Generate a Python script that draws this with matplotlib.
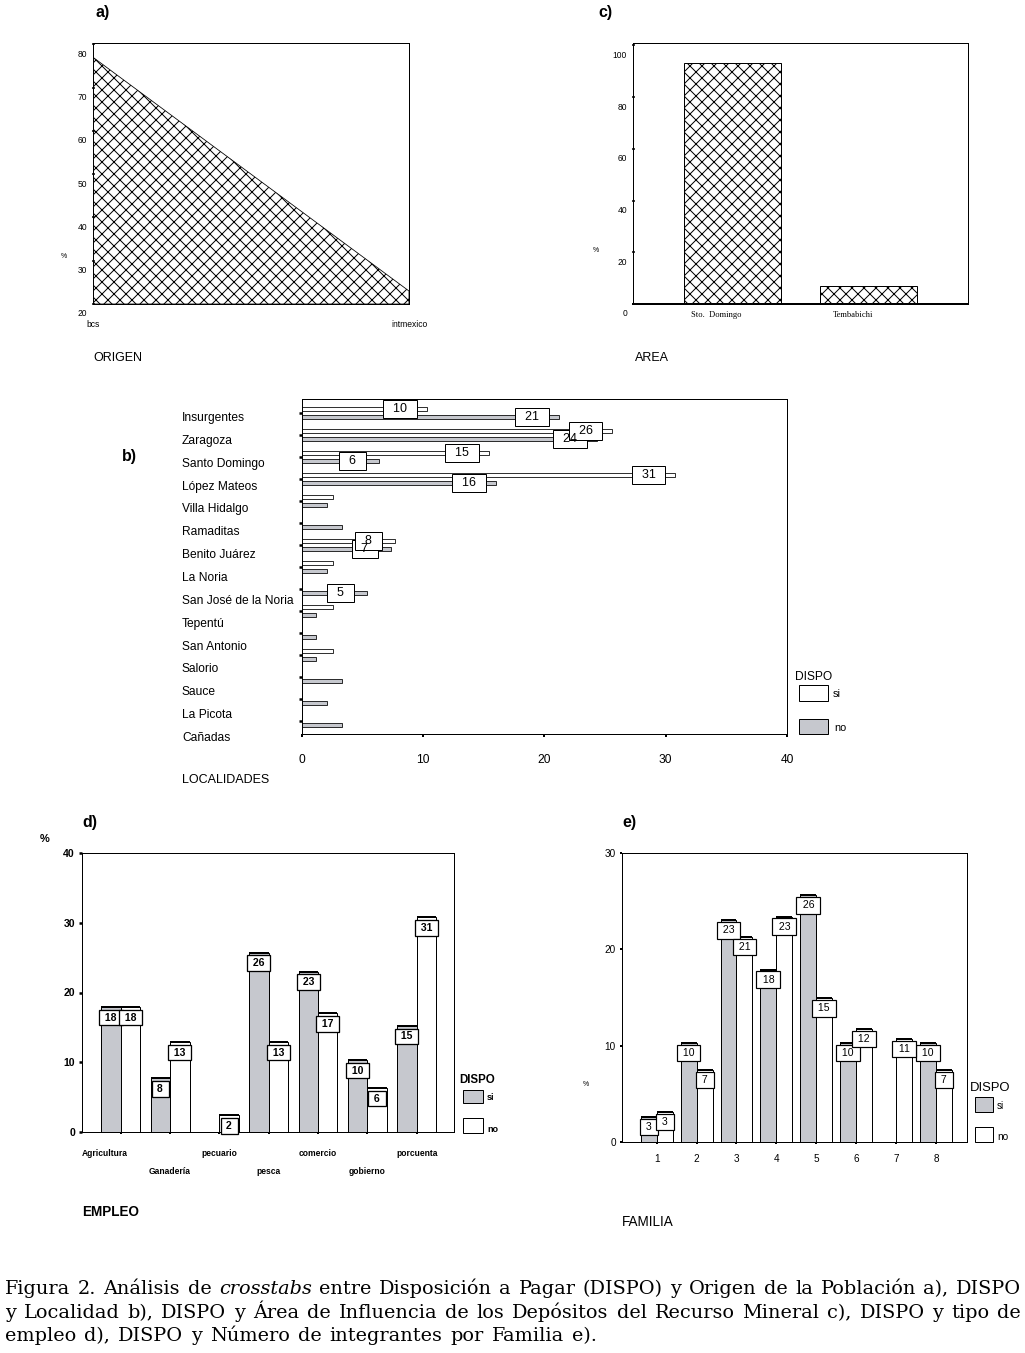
import matplotlib
matplotlib.use('Agg')
import matplotlib.pyplot as plt
import numpy as np
from matplotlib.patches import Rectangle

plt.rcParams['font.family'] = ['Liberation Sans', 'DejaVu Sans']
plt.rcParams['hatch.linewidth'] = 1.0
plt.rcParams['axes.linewidth'] = 1.0

# ---- data ----
origen = ['bcs', 'intmexico']
origen_pct = [77, 23]

area = ['Sto.  Domingo', 'Tembabichi']
area_pct = [93, 7]

localidades = ['Insurgentes', 'Zaragoza', 'Santo Domingo', 'López Mateos', 'Villa Hidalgo',
               'Ramaditas', 'Benito Juárez', 'La Noria', 'San José de la Noria', 'Tepentú',
               'San Antonio', 'Salorio', 'Sauce', 'La Picota', 'Cañadas']
loc_si = [10.3, 25.6, 15.4, 30.8, 2.6, 0, 7.7, 2.6, 0, 2.6, 0, 2.6, 0, 0, 0]
loc_no = [21.2, 24.3, 6.4, 16.0, 2.1, 3.3, 7.4, 2.1, 5.4, 1.15, 1.15, 1.15, 3.3, 2.1, 3.3]

empleo = ['Agricultura', 'Ganadería', 'pecuario', 'pesca', 'comercio', 'gobierno', 'porcuenta']
emp_si = [17.9, 7.7, 0, 25.7, 23.0, 10.3, 15.2]
emp_no = [17.9, 12.9, 2.4, 12.9, 17.0, 6.3, 30.8]

familia = ['1', '2', '3', '4', '5', '6', '7', '8']
fam_si = [2.56, 10.25, 23.0, 17.9, 25.6, 10.25, 0, 10.25]
fam_no = [3.15, 7.44, 21.3, 23.4, 14.9, 11.7, 10.7, 7.44]

GRAY = '#c6c8ce'

W, H = 1025, 1353
fig = plt.figure(figsize=(W / 72, H / 72), dpi=72)


def rect(l, t, r, b):
    return [l / W, 1 - b / H, (r - l) / W, (b - t) / H]


def ftext(x, y, s, **kw):
    kw.setdefault('va', 'center')
    return fig.text(x / W, 1 - y / H, s, **kw)


def fbox(l, t, r, b, fc):
    fig.patches.append(Rectangle((l / W, 1 - b / H), (r - l) / W, (b - t) / H,
                                 transform=fig.transFigure, fc=fc, ec='black', lw=1))


def ylabels(ax, ticks, dy, size, **kw):
    ax.set_yticks(ticks)
    ax.set_yticklabels([])
    for v in ticks:
        ax.annotate(str(v), xy=(0, v), xycoords=ax.get_yaxis_transform(),
                    xytext=(-6, dy), textcoords='offset points', ha='right',
                    va='center', fontsize=size, annotation_clip=False, **kw)


def nz(v):
    v = np.asarray(v, dtype=float)
    return np.where(v > 0, v, np.nan)


# ---- a) ORIGEN ----
ax = fig.add_axes(rect(93, 43, 409, 304))
xa = np.arange(len(origen))
ax.fill_between(xa, origen_pct, 20, facecolor='white', edgecolor='black', hatch='xx', lw=0.8)
ax.set_xlim(0, 1)
ax.set_ylim(20, 80.3)
ylabels(ax, list(range(20, 81, 10)), -10, 8.5)
ax.tick_params(axis='y', length=3, width=1.5, direction='inout')
ax.set_xticks(xa, origen, fontsize=8.5)
ax.tick_params(axis='x', length=0, pad=16)
ftext(61, 257, '%', fontsize=7)
ftext(93, 358, 'ORIGEN', fontsize=12.5)
ftext(95, 13, 'a)', fontsize=16, fontweight='bold')

# ---- c) AREA ----
ax = fig.add_axes(rect(633, 43, 968, 304))
xc = np.arange(1, len(area) + 1)
ax.bar(xc, area_pct, width=0.71, facecolor='white', edgecolor='black', hatch='xx', lw=1)
ax.set_xlim(0.27, 2.73)
ax.set_ylim(0, 100.9)
ax.spines['bottom'].set_linewidth(2)
ylabels(ax, list(range(0, 101, 20)), -10, 8.5)
ax.tick_params(axis='y', length=3, width=1.5, direction='inout')
ax.set_xticks([])
for x, name in zip(xc, area):
    ax.annotate(name, xy=(x, 0), xytext=(-16, -11), textcoords='offset points',
                ha='center', va='center', fontsize=8.5, family='Liberation Serif')
ftext(593, 250, '%', fontsize=7)
ftext(635, 358, 'AREA', fontsize=12.5)
ftext(598, 13, 'c)', fontsize=16, fontweight='bold')

# ---- b) LOCALIDADES ----
ax = fig.add_axes(rect(301.7, 399, 787, 734))
yb = np.arange(len(localidades))
ax.barh(yb - 0.18, loc_si, height=0.16, facecolor='white', edgecolor='black', lw=0.8)
ax.barh(yb + 0.18, loc_no, height=0.16, facecolor=GRAY, edgecolor='black', lw=0.8)
ax.set_xlim(0, 40)
ax.set_ylim(14.59, -0.636)
ax.set_yticks(yb)
ax.set_yticklabels([])
ax.tick_params(axis='y', length=3, width=2.5)
ax.set_xticks(range(0, 41, 10))
ax.tick_params(axis='x', length=3, width=2, pad=17, labelsize=12)
for i, name in enumerate(localidades):
    ax.annotate(name, xy=(0, i), xytext=(182 - 301.7, -(5 + 0.857 * i)),
                textcoords='offset points', ha='left', va='center', fontsize=12,
                annotation_clip=False)
# boxes first (no under si), then the numbers on top of all boxes
for boxed in (True, False):
    for vals, off in [(loc_no, 0.18), (loc_si, -0.18)]:
        for i, v in enumerate(vals):
            if v >= 4.5:
                kw = dict(xy=(v, i + off), xytext=(-26.7, 0), textcoords='offset points',
                          ha='center', va='center', fontsize=12.5)
                if boxed:
                    ax.annotate('  %d  ' % round(v), color='none',
                                bbox=dict(boxstyle='square,pad=0.22', fc='white',
                                          ec='black', lw=1), **kw)
                else:
                    ax.annotate('  %d  ' % round(v), **kw)
ftext(122, 457, 'b)', fontsize=16, fontweight='bold')
ftext(182, 780, 'LOCALIDADES', fontsize=12.5)
ftext(795, 677, 'DISPO', fontsize=12)
fbox(799, 685, 828, 701, 'white')
ftext(833, 694, 'si', fontsize=11)
fbox(799, 719, 828, 734, GRAY)
ftext(834, 728, 'no', fontsize=11)

# ---- d) EMPLEO ----
ax = fig.add_axes(rect(82, 853, 454, 1132))
xd = np.arange(len(empleo))
wd = 0.395
ax.bar(xd - wd / 2, emp_si, wd, facecolor=GRAY, edgecolor='black', lw=1)
ax.bar(xd + wd / 2, emp_no, wd, facecolor='white', edgecolor='black', lw=1)
ax.hlines(nz(emp_si), xd - wd, xd, color='black', lw=2)
ax.hlines(nz(emp_no), xd, xd + wd, color='black', lw=2)
ax.set_xlim(-0.785, 6.757)
ax.set_ylim(0, 40)
ax.set_yticks(range(0, 41, 10))
ax.tick_params(axis='y', length=3, width=2.5, pad=4, labelsize=10.5)
for lab in ax.get_yticklabels():
    lab.set_fontweight('bold')
ax.set_xticks(xd)
ax.set_xticklabels([])
ax.tick_params(axis='x', length=2, width=2)
for vals, off in [(emp_si, -wd / 2), (emp_no, wd / 2)]:
    for i, v in enumerate(vals):
        if v > 0:
            ax.annotate(' %d ' % round(v), xy=(i + off, v), xytext=(0, -10.5),
                        textcoords='offset points', ha='center', va='center', fontsize=10.5,
                        fontweight='bold',
                        bbox=dict(boxstyle='square,pad=0.27', fc='white', ec='black', lw=1.3))
for i, name in enumerate(empleo):
    dy = -22 if i % 2 == 0 else -39
    if i == 0:
        ax.annotate(name, xy=(-0.785, 0), xytext=(0, dy), textcoords='offset points',
                    ha='left', va='center', fontsize=8.5, fontweight='bold', annotation_clip=False)
    else:
        ax.annotate(name, xy=(i, 0), xytext=(0, dy), textcoords='offset points',
                    ha='center', va='center', fontsize=8.5, fontweight='bold', annotation_clip=False)
ftext(40, 839, '%', fontsize=11, fontweight='bold')
ftext(82, 822, 'd)', fontsize=16, fontweight='bold')
ftext(82, 1212, 'EMPLEO', fontsize=13.5, fontweight='bold')
ftext(459, 1080, 'DISPO', fontsize=11.5, fontweight='bold')
fbox(463, 1090, 483, 1103, GRAY)
ftext(487, 1098, 'si', fontsize=9, fontweight='bold')
fbox(463, 1118, 483, 1133, 'white')
ftext(487, 1129, 'no', fontsize=9, fontweight='bold')

# ---- e) FAMILIA ----
ax = fig.add_axes(rect(622, 853, 967, 1142))
xe = np.arange(1, len(familia) + 1)
we = 0.4
ax.bar(xe - we / 2, fam_si, we, facecolor=GRAY, edgecolor='black', lw=1)
ax.bar(xe + we / 2, fam_no, we, facecolor='white', edgecolor='black', lw=1)
ax.hlines(nz(fam_si), xe - we, xe, color='black', lw=2)
ax.hlines(nz(fam_no), xe, xe + we, color='black', lw=2)
ax.set_xlim(0.13, 8.78)
ax.set_ylim(0, 30)
ax.set_yticks(range(0, 31, 10))
ax.tick_params(axis='y', length=2, width=2, pad=4, labelsize=10)
ax.set_xticks(xe, familia)
ax.tick_params(axis='x', length=2, width=2, pad=10, labelsize=10)
for vals, off in [(fam_si, -we / 2), (fam_no, we / 2)]:
    for i, v in enumerate(vals):
        if v > 0:
            ax.annotate(' %d ' % round(v), xy=(xe[i] + off, v), xytext=(0, -10),
                        textcoords='offset points', ha='center', va='center', fontsize=10.5,
                        bbox=dict(boxstyle='square,pad=0.3', fc='white', ec='black', lw=1.2))
ftext(583, 1085, '%', fontsize=7)
ftext(622, 822, 'e)', fontsize=16, fontweight='bold')
ftext(622, 1222, 'FAMILIA', fontsize=13.5)
ftext(970, 1088, 'DISPO', fontsize=13)
fbox(975, 1097, 993, 1112, GRAY)
ftext(997, 1106, 'si', fontsize=10)
fbox(975, 1127, 993, 1142, 'white')
ftext(997, 1137, 'no', fontsize=10)

# ---- caption (justified) ----
caption = [
    ([('Figura', 0), ('2.', 0), ('Análisis', 0), ('de', 0), ('crosstabs', 1), ('entre', 0),
      ('Disposición', 0), ('a', 0), ('Pagar', 0), ('(DISPO)', 0), ('y', 0), ('Origen', 0),
      ('de', 0), ('la', 0), ('Población', 0), ('a),', 0), ('DISPO', 0)], 1294, True),
    ([(w, 0) for w in 'y Localidad b), DISPO y Área de Influencia de los Depósitos del '
      'Recurso Mineral c), DISPO y tipo de'.split()], 1318, True),
    ([(w, 0) for w in 'empleo d), DISPO y Número de integrantes por Familia e).'.split()],
     1341, False),
]
renderer = fig.canvas.get_renderer()
for words, y, justify in caption:
    texts = [ftext(0, y, w, fontsize=19.3, family='DejaVu Serif', va='baseline',
                   style='italic' if it else 'normal') for w, it in words]
    widths = [t.get_window_extent(renderer).width for t in texts]
    if justify:
        gap = (1021 - 5 - sum(widths)) / (len(words) - 1)
    else:
        gap = 8
    x = 5
    for t, wd_ in zip(texts, widths):
        t.set_x(x / W)
        x += wd_ + gap

fig.savefig('out.png', dpi=72)
